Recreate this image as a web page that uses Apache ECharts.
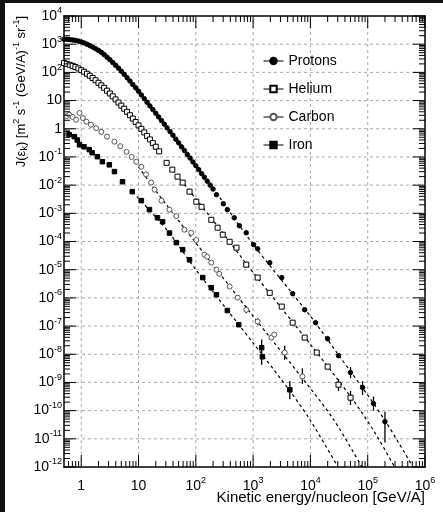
<!DOCTYPE html>
<html>
<head>
<meta charset="utf-8">
<script src="https://cdn.jsdelivr.net/npm/echarts@6/dist/echarts.min.js"></script>
<style>
  html, body { margin: 0; padding: 0; background: #fff; }
  #chart { width: 443px; height: 512px; }
</style>
</head>
<body>
<div id="chart"></div>
<script>
// kinetic energy per nucleon [GeV/A] and flux
const protonE = [0.5, 0.56, 0.63, 0.71, 0.79, 0.89, 1.0, 1.12, 1.26, 1.41, 1.58, 1.78, 2.0, 2.24, 2.51, 2.82,
  3.16, 3.55, 3.98, 4.47, 5.01, 5.62, 6.31, 7.08, 7.94, 8.91, 10, 11.2, 12.6, 14.1, 15.8, 17.8, 20, 22.4, 25.1,
  28.2, 31.6, 35.5, 39.8, 44.7, 50.1, 56.2, 63.1, 70.8, 79.4, 89.1, 100, 112, 126, 141, 158, 178, 200,
  229, 302, 355, 468, 575, 759, 1020, 1200, 1950, 3160, 4900, 7940, 1.23e4, 2.0e4, 3.09e4, 5.01e4, 8.13e4, 1.26e5, 2.0e5]
const protonFlux = [1510, 1500, 1460, 1410, 1360, 1290, 1200, 1110, 1000, 891, 794, 692, 603, 513, 427, 347,
  282, 224, 178, 141, 110, 85.1, 64.6, 49.0, 37.2, 28.2, 21.4, 15.8, 11.7, 8.71, 6.46, 4.79, 3.55, 2.63, 1.95,
  1.45, 1.07, 0.794, 0.589, 0.427, 0.316, 0.229, 0.170, 0.123, 0.0912, 0.0661, 0.0490, 0.0355, 0.0257, 0.0191, 0.0138, 0.0100, 0.00724,
  4.57e-3, 2.19e-3, 1.35e-3, 6.92e-4, 3.63e-4, 2.04e-4, 7.76e-5, 5.50e-5, 1.78e-5, 5.25e-6, 1.41e-6, 3.80e-7, 1.32e-7, 3.55e-8, 8.91e-9, 2.24e-9, 6.61e-10, 1.78e-10, 4.07e-11]

const heliumE = [0.5, 0.56, 0.63, 0.71, 0.79, 0.89, 1.0, 1.12, 1.26, 1.41, 1.58, 1.78, 2.0, 2.24, 2.51, 2.82,
  3.16, 3.55, 3.98, 4.47, 5.01, 5.62, 6.31, 7.08, 7.94, 8.91, 10, 11.2, 12.6, 14.1, 15.8, 17.8, 20,
  22.9, 30.9, 38.9, 47.9, 58.9, 77.6, 102, 126, 186, 240, 295, 389, 513, 759, 1200, 1950, 3160, 4900, 7940, 1.29e4, 2.0e4, 3.09e4, 5.01e4]
const heliumFlux = [214, 200, 186, 170, 155, 138, 120, 105, 89.1, 75.9, 63.1, 52.5, 42.7, 34.7, 28.2, 22.4,
  17.8, 14.1, 11.0, 8.51, 6.61, 5.13, 3.98, 3.02, 2.29, 1.74, 1.32, 0.99, 0.741, 0.556, 0.417, 0.309, 0.229,
  0.158, 0.0617, 0.0355, 0.0200, 0.0123, 5.89e-3, 2.57e-3, 1.70e-3, 5.89e-4, 3.09e-4, 1.74e-4, 9.77e-5, 6.03e-5, 1.51e-5,
  5.25e-6, 1.51e-6, 4.90e-7, 1.32e-7, 3.89e-8, 1.15e-8, 3.63e-9, 8.32e-10, 2.88e-10]

const carbonE = [0.562, 0.617, 0.708, 0.813, 0.933, 1.07, 1.23, 1.48, 1.82, 2.24, 2.82, 3.80, 4.79, 6.17, 7.59,
  9.12, 11.2, 13.5, 16.6, 19.1, 25.1, 34.7, 45.7, 63.1, 83.2, 102, 141, 158, 186, 229, 257, 389, 537, 759, 1200,
  2090, 2340, 3550, 7240]
const carbonFlux = [2.82, 3.16, 2.63, 2.09, 3.63, 2.40, 1.78, 1.38, 1.05, 0.776, 0.525, 0.347, 0.240, 0.151, 0.100,
  0.0676, 0.0447, 0.0240, 0.0123, 6.92e-3, 2.82e-3, 1.35e-3, 7.94e-4, 2.63e-4, 2.04e-4, 1.12e-4, 3.39e-5, 2.88e-5,
  1.78e-5, 1.0e-5, 7.08e-6, 2.51e-6, 1.02e-6, 3.80e-7, 1.45e-7, 3.89e-8, 5.01e-8, 1.15e-8, 1.62e-9]

const ironE = [0.617, 0.759, 0.851, 0.933, 1.12, 1.38, 1.55, 1.91, 2.34, 3.09, 3.80, 5.25, 7.76, 11.2, 15.5,
  21.4, 26.3, 34.7, 45.7, 58.9, 77.6, 132, 186, 229, 355, 562, 1410, 1450, 4370]
const ironFlux = [0.617, 0.525, 0.398, 0.269, 0.229, 0.182, 0.141, 0.102, 0.0676, 0.0525, 0.0302, 0.0132, 5.89e-3,
  2.82e-3, 1.35e-3, 6.92e-4, 5.01e-4, 2.0e-4, 9.12e-5, 5.13e-5, 2.24e-5, 5.25e-6, 2.29e-6, 1.29e-6, 3.55e-7,
  1.12e-7, 1.70e-8, 8.13e-9, 5.50e-10]

// error bars
const errE = [5.01e4, 8.13e4, 1.26e5, 2.0e5, 3.09e4, 5.01e4, 759, 1200, 3550, 7240, 1410, 4370]
const errLo = [1.41e-9, 3.55e-10, 1.0e-10, 7.41e-12, 5.01e-10, 1.58e-10, 2.82e-7, 1.12e-7, 6.31e-9, 8.91e-10, 4.27e-9, 2.51e-10]
const errHi = [3.55e-9, 1.12e-9, 3.16e-10, 9.12e-11, 1.32e-9, 5.01e-10, 5.01e-7, 1.91e-7, 2.0e-8, 3.16e-9, 3.31e-8, 1.12e-9]

// dashed fit curves
const protonFitE = [200, 1000, 1e4, 3.16e4, 1e5, 2e5, 3.16e5, 6.17e5]
const protonFitFlux = [7.94e-3, 7.94e-5, 2.24e-7, 8.91e-9, 3.55e-10, 4.47e-11, 1e-11, 1e-12]
const heliumFitE = [39.8, 200, 1000, 1e4, 5.01e4, 1.26e5, 2.95e5]
const heliumFitFlux = [0.0331, 5.62e-4, 7.94e-6, 2.24e-8, 3.16e-10, 2.0e-11, 1e-12]
const carbonFitE = [10, 20, 100, 1000, 7240, 2.51e4, 7.94e4]
const carbonFitFlux = [0.0447, 6.31e-3, 8.91e-5, 2.24e-7, 1.41e-9, 5.01e-11, 1e-12]
const ironFitE = [7.94, 31.6, 100, 1000, 4370, 1e4, 3.02e4]
const ironFitFlux = [5.62e-3, 2.51e-4, 1e-5, 2.51e-8, 5.01e-10, 4.47e-11, 1e-12]

// tick labels
const xLabels = [1, 10, 1e2, 1e3, 1e4, 1e5, 1e6]
const yLabels = [1e-12, 1e-11, 1e-10, 1e-9, 1e-8, 1e-7, 1e-6, 1e-5, 1e-4, 1e-3, 1e-2, 1e-1, 1, 10, 1e2, 1e3, 1e4]

const X0 = 0.5, X1 = 1e6, Y0 = 1e-12, Y1 = 1e4

function minorTicks(decades) {
  const out = []
  decades.forEach(d => { for (let k = 2; k <= 9; k++) out.push(k * d) })
  return out
}
const xMinor = [0.6, 0.7, 0.8, 0.9].concat(minorTicks([1, 10, 1e2, 1e3, 1e4, 1e5]))
const yMinor = minorTicks(yLabels.slice(0, -1))

// [x, y, length, which axis]
const tickItems = []
xLabels.forEach(v => tickItems.push([v, Y0, 12, 0]))
xMinor.forEach(v => tickItems.push([v, Y0, 6, 0]))
yLabels.forEach(v => tickItems.push([X0, v, 12, 1]))
yMinor.forEach(v => tickItems.push([X0, v, 6, 1]))

const gridItems = []
xLabels.slice(0, -1).forEach(v => gridItems.push([v, Y0, 0, 0]))
yLabels.slice(1, -1).forEach(v => gridItems.push([X0, v, 0, 1]))

const font = 'Liberation Sans'
const rich = {
  b: { fontFamily: font, fontSize: 14, color: '#000', lineHeight: 20 },
  s: { fontFamily: font, fontSize: 9, color: '#000', lineHeight: 9, padding: [0, 0, 10, 0] }
}
function powLabel(v) {
  const l = Math.log10(v)
  const e = Math.round(l)
  if (Math.abs(l - e) > 0.01) return ''
  if (e === 0) return '{b|1}'
  if (e === 1) return '{b|10}'
  return '{b|10}{s|' + e + '}'
}

const frame = { show: true, onZero: false, lineStyle: { color: '#000', width: 1.5 } }

function xAxis(position, labels) {
  return {
    type: 'log', logBase: 10, min: X0, max: X1, position: position,
    axisLine: frame, axisTick: { show: false },
    axisLabel: labels ? { show: true, customValues: xLabels, formatter: powLabel, rich: rich, margin: 9 } : { show: false },
    splitLine: { show: false }, minorTick: { show: false }
  }
}
function yAxis(position, labels) {
  return {
    type: 'log', logBase: 10, min: Y0, max: Y1, splitNumber: 16, position: position,
    axisLine: frame, axisTick: { show: false },
    axisLabel: labels ? { show: true, customValues: yLabels, formatter: powLabel, rich: rich, margin: 2 } : { show: false },
    splitLine: { show: false }, minorTick: { show: false }
  }
}

function pairs(xs, ys) {
  return xs.map((x, i) => [x, ys[i]])
}
function points(name, xs, ys, symbol, size, fill, border) {
  return {
    name: name, type: 'line', data: pairs(xs, ys), symbol: symbol, symbolSize: size,
    showSymbol: true, showAllSymbol: true, lineStyle: { width: 0 },
    itemStyle: { color: fill, borderColor: border, borderWidth: 1 },
    silent: true, z: 4
  }
}
function fit(xs, ys) {
  return {
    type: 'line', data: pairs(xs, ys), symbol: 'none', smooth: 0.3,
    lineStyle: { color: '#000', width: 1.2, type: [3, 3] }, silent: true, z: 3
  }
}

function seg(a, b, style) {
  return { type: 'line', shape: { x1: a[0], y1: a[1], x2: b[0], y2: b[1] }, style: style }
}

const chart = echarts.init(document.getElementById('chart'))
chart.setOption({
  animation: false,
  backgroundColor: '#fff',
  grid: { left: 64, top: 16, width: 361, height: 451 },
  xAxis: [xAxis('bottom', true), xAxis('top', false)],
  yAxis: [yAxis('left', true), yAxis('right', false)],
  legend: {
    data: ['Protons', 'Helium', 'Carbon', 'Iron'],
    orient: 'vertical', left: 258, top: 49,
    itemWidth: 20, itemHeight: 8, itemGap: 14,
    textStyle: { fontFamily: font, fontSize: 14, color: '#000' },
    lineStyle: { width: 1, color: '#000', opacity: 1 }
  },
  graphic: [
    { type: 'rect', shape: { x: 0, y: 0, width: 5, height: 512 }, style: { fill: '#111' } },
    { type: 'rect', shape: { x: 0, y: 0, width: 443, height: 3 }, style: { fill: '#111' } },
    {
      type: 'text', x: 425, y: 498,
      style: {
        text: 'Kinetic energy/nucleon [GeV/A]', fontFamily: font, fontSize: 15, fill: '#000',
        align: 'right', textAlign: 'right', verticalAlign: 'middle', textVerticalAlign: 'middle'
      }
    },
    {
      type: 'text', x: 21, y: 16, rotation: Math.PI / 2,
      style: {
        text: '{n|J(ε}{sb|k}{n|) [m}{sp|2}{n| s}{sp|-1}{n| (GeV/A)}{sp|-1}{n| sr}{sp|-1}{n|]}',
        rich: {
          n: { fontFamily: font, fontSize: 13, color: '#000', lineHeight: 20 },
          sp: { fontFamily: font, fontSize: 9, color: '#000', lineHeight: 9, padding: [0, 0, 9, 0] },
          sb: { fontFamily: font, fontSize: 9, color: '#000', lineHeight: 9, padding: [8, 0, 0, 0] }
        },
        align: 'right', textAlign: 'right', verticalAlign: 'middle', textVerticalAlign: 'middle'
      }
    }
  ],
  series: [
    {
      // dashed grid at each decade
      type: 'custom', silent: true, z: 1, clip: false,
      data: gridItems,
      renderItem: function (params, api) {
        const style = { stroke: '#aaa', lineWidth: 1, lineDash: [3, 3] }
        if (api.value(3) === 0) {
          return seg(api.coord([api.value(0), Y0]), api.coord([api.value(0), Y1]), style)
        }
        return seg(api.coord([X0, api.value(1)]), api.coord([X1, api.value(1)]), style)
      }
    },
    {
      // inside ticks on all four sides
      type: 'custom', silent: true, z: 6, clip: false,
      data: tickItems,
      renderItem: function (params, api) {
        const len = api.value(2)
        const style = { stroke: '#000', lineWidth: 1 }
        if (api.value(3) === 0) {
          const b = api.coord([api.value(0), Y0])
          const t = api.coord([api.value(0), Y1])
          return {
            type: 'group',
            children: [seg(b, [b[0], b[1] - len], style), seg(t, [t[0], t[1] + len], style)]
          }
        }
        const l = api.coord([X0, api.value(1)])
        const r = api.coord([X1, api.value(1)])
        return {
          type: 'group',
          children: [seg(l, [l[0] + len, l[1]], style), seg(r, [r[0] - len, r[1]], style)]
        }
      }
    },
    fit(protonFitE, protonFitFlux),
    fit(heliumFitE, heliumFitFlux),
    fit(carbonFitE, carbonFitFlux),
    fit(ironFitE, ironFitFlux),
    {
      type: 'custom', silent: true, z: 3,
      data: errE.map((e, i) => [e, errLo[i], errHi[i]]),
      encode: { x: 0, y: [1, 2] },
      renderItem: function (params, api) {
        const a = api.coord([api.value(0), api.value(1)])
        const b = api.coord([api.value(0), api.value(2)])
        return seg(a, b, { stroke: '#000', lineWidth: 1.3 })
      }
    },
    points('Iron', ironE, ironFlux, 'rect', 4.5, '#000', '#000'),
    points('Carbon', carbonE, carbonFlux, 'circle', 5, '#fff', '#555'),
    points('Helium', heliumE, heliumFlux, 'rect', 5, '#fff', '#000'),
    points('Protons', protonE, protonFlux, 'circle', 4.5, '#000', '#000')
  ]
})
</script>
</body>
</html>
